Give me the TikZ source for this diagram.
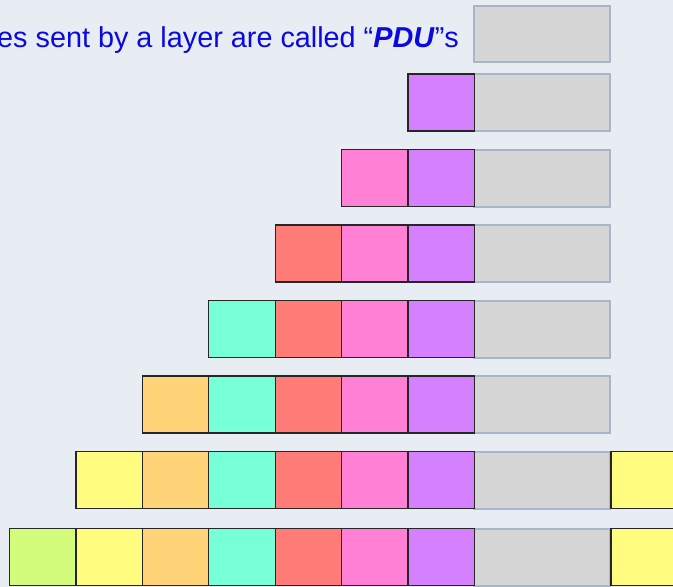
\documentclass[tikz,border=0pt]{standalone}
\usepackage{fontspec}
\setmainfont{Liberation Sans}
\usetikzlibrary{positioning}
\definecolor{fond}{HTML}{E8ECF3}
\definecolor{encre}{HTML}{0A0AE0}
\definecolor{gris}{HTML}{D6D6D6}
\definecolor{cadre}{HTML}{A8B6CC}
\definecolor{violet}{HTML}{D580FF}
\definecolor{rose}{HTML}{FF80D5}
\definecolor{rouge}{HTML}{FF7C78}
\definecolor{turquoise}{HTML}{77FFD8}
\definecolor{orange}{HTML}{FFD479}
\definecolor{jaune}{HTML}{FFFC7F}
\definecolor{vert}{HTML}{D4FC7C}

\begin{document}
\begin{tikzpicture}[x=1pt, y=-1pt,
    case/.style={draw=black!85, line width=1.2pt, minimum width=66.4pt, minimum height=57pt,
      inner sep=0pt, outer sep=0pt, anchor=north west},
    donnee/.style={draw=cadre, fill=gris, line width=2pt, minimum width=136pt, minimum height=57pt,
      inner sep=0pt, outer sep=0pt, anchor=north west}]
  \fill[fond] (0,0) rectangle (673,587);
  \clip (0,0) rectangle (673,587);
  \node[encre, anchor=base east, inner sep=0pt, font=\fontsize{28.8}{32}\selectfont] (titre) at (459,47)
    {es sent by a layer are called “\textbf{\textit{PDU}}”s};
  % la donnée seule, puis un en-tête de plus à chaque couche
  \node[donnee, minimum height=56pt] (d0) at (474.3,6) {};
  \foreach \y [count=\k] in {74,149.5,225,300.5,376,451.5,528.5} {
    \pgfmathtruncatemacro{\premier}{7-\k}
    \node[donnee] (d\k) at (474.3,\y) {};
    \foreach \i/\c in {0/vert,1/jaune,2/orange,3/turquoise,4/rouge,5/rose,6/violet} {
      \ifnum\i<\premier\else
        \node[case, fill=\c] (e\k-\i) at (9.5+66.4*\i,\y) {};
      \fi
    }
  }
  % queues ajoutées en fin de trame
  \node[case, fill=jaune, minimum width=70pt] (q6) at (611,451.5) {};
  \node[case, fill=jaune, minimum width=70pt] (q7) at (611,528.5) {};
\end{tikzpicture}
\end{document}
